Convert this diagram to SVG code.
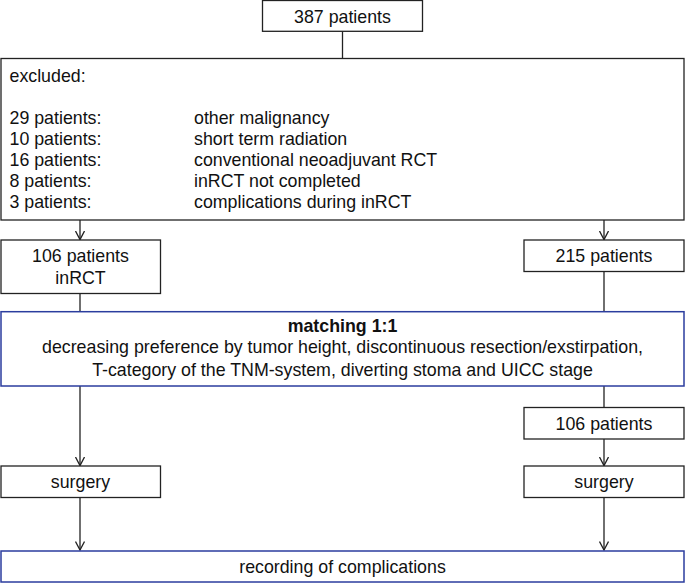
<svg xmlns="http://www.w3.org/2000/svg" width="685" height="583" viewBox="0 0 685 583">
<style>
text{font-family:"Liberation Sans",Arial,sans-serif;font-size:17.8px;fill:#111}
.c{text-anchor:middle}
.b{font-weight:bold}
.box{fill:#fff;stroke:#222;stroke-width:1.3}
.blue{fill:#fff;stroke:#2b3d9e;stroke-width:1.5}
.ln{fill:none;stroke:#222;stroke-width:1.3}
</style>
<defs>
<marker id="ah" viewBox="0 0 10 10" refX="9" refY="5" markerWidth="10" markerHeight="10" markerUnits="userSpaceOnUse" orient="auto">
<path d="M0.5,0.5 L9,5 L0.5,9.5" fill="none" stroke="#222" stroke-width="1.3"/>
</marker>
</defs>
<g id="connectors">
<line class="ln" x1="342.5" y1="31" x2="342.5" y2="58.5"/>
<line class="ln" x1="80" y1="220" x2="80" y2="239.5" marker-end="url(#ah)"/>
<line class="ln" x1="604" y1="220" x2="604" y2="239.5" marker-end="url(#ah)"/>
<line class="ln" x1="80" y1="293.5" x2="80" y2="311.5"/>
<line class="ln" x1="604" y1="271.5" x2="604" y2="311.5"/>
<line class="ln" x1="80" y1="386" x2="80" y2="465.5" marker-end="url(#ah)"/>
<line class="ln" x1="604" y1="386" x2="604" y2="407.5"/>
<line class="ln" x1="604" y1="439" x2="604" y2="465.5" marker-end="url(#ah)"/>
<line class="ln" x1="80" y1="497.5" x2="80" y2="550" marker-end="url(#ah)"/>
<line class="ln" x1="604" y1="497.5" x2="604" y2="550" marker-end="url(#ah)"/>
</g>
<g id="n387">
<rect class="box" x="262.5" y="0.5" width="160" height="30.8"/>
<text class="c" x="342.5" y="22.5">387 patients</text>
</g>
<g id="excluded">
<rect class="box" x="1" y="58.5" width="683" height="161.5"/>
<text x="9.5" y="81.7">excluded:</text>
<text x="9.5" y="123.7">29 patients:</text>
<text x="194" y="123.7">other malignancy</text>
<text x="9.5" y="144.7">10 patients:</text>
<text x="194" y="144.7">short term radiation</text>
<text x="9.5" y="165.7">16 patients:</text>
<text x="194" y="165.7">conventional neoadjuvant RCT</text>
<text x="9.5" y="186.7">8 patients:</text>
<text x="194" y="186.7">inRCT not completed</text>
<text x="9.5" y="207.7">3 patients:</text>
<text x="194" y="207.7">complications during inRCT</text>
</g>
<g id="n106inrct">
<rect class="box" x="1" y="240" width="159.5" height="53.5"/>
<text class="c" x="80.5" y="262.3">106 patients</text>
<text class="c" x="80.5" y="284.3">inRCT</text>
</g>
<g id="n215">
<rect class="box" x="524" y="240" width="160" height="31.5"/>
<text class="c" x="604" y="262.3">215 patients</text>
</g>
<g id="matching">
<rect class="blue" x="1" y="311.7" width="683" height="74.3"/>
<text class="c b" x="342.5" y="331.7">matching 1:1</text>
<text class="c" x="342.5" y="353.3">decreasing preference by tumor height, discontinuous resection/exstirpation,</text>
<text class="c" x="342.5" y="375.5">T-category of the TNM-system, diverting stoma and UICC stage</text>
</g>
<g id="n106">
<rect class="box" x="524" y="407.5" width="160" height="31.5"/>
<text class="c" x="604" y="429.5">106 patients</text>
</g>
<g id="surgery1">
<rect class="box" x="1" y="466" width="159.5" height="31.5"/>
<text class="c" x="80.5" y="488.3">surgery</text>
</g>
<g id="surgery2">
<rect class="box" x="524" y="466" width="160" height="31.5"/>
<text class="c" x="604" y="488.3">surgery</text>
</g>
<g id="recording">
<rect class="blue" x="1" y="551" width="683" height="31"/>
<text class="c" x="342.5" y="573">recording of complications</text>
</g>
</svg>
